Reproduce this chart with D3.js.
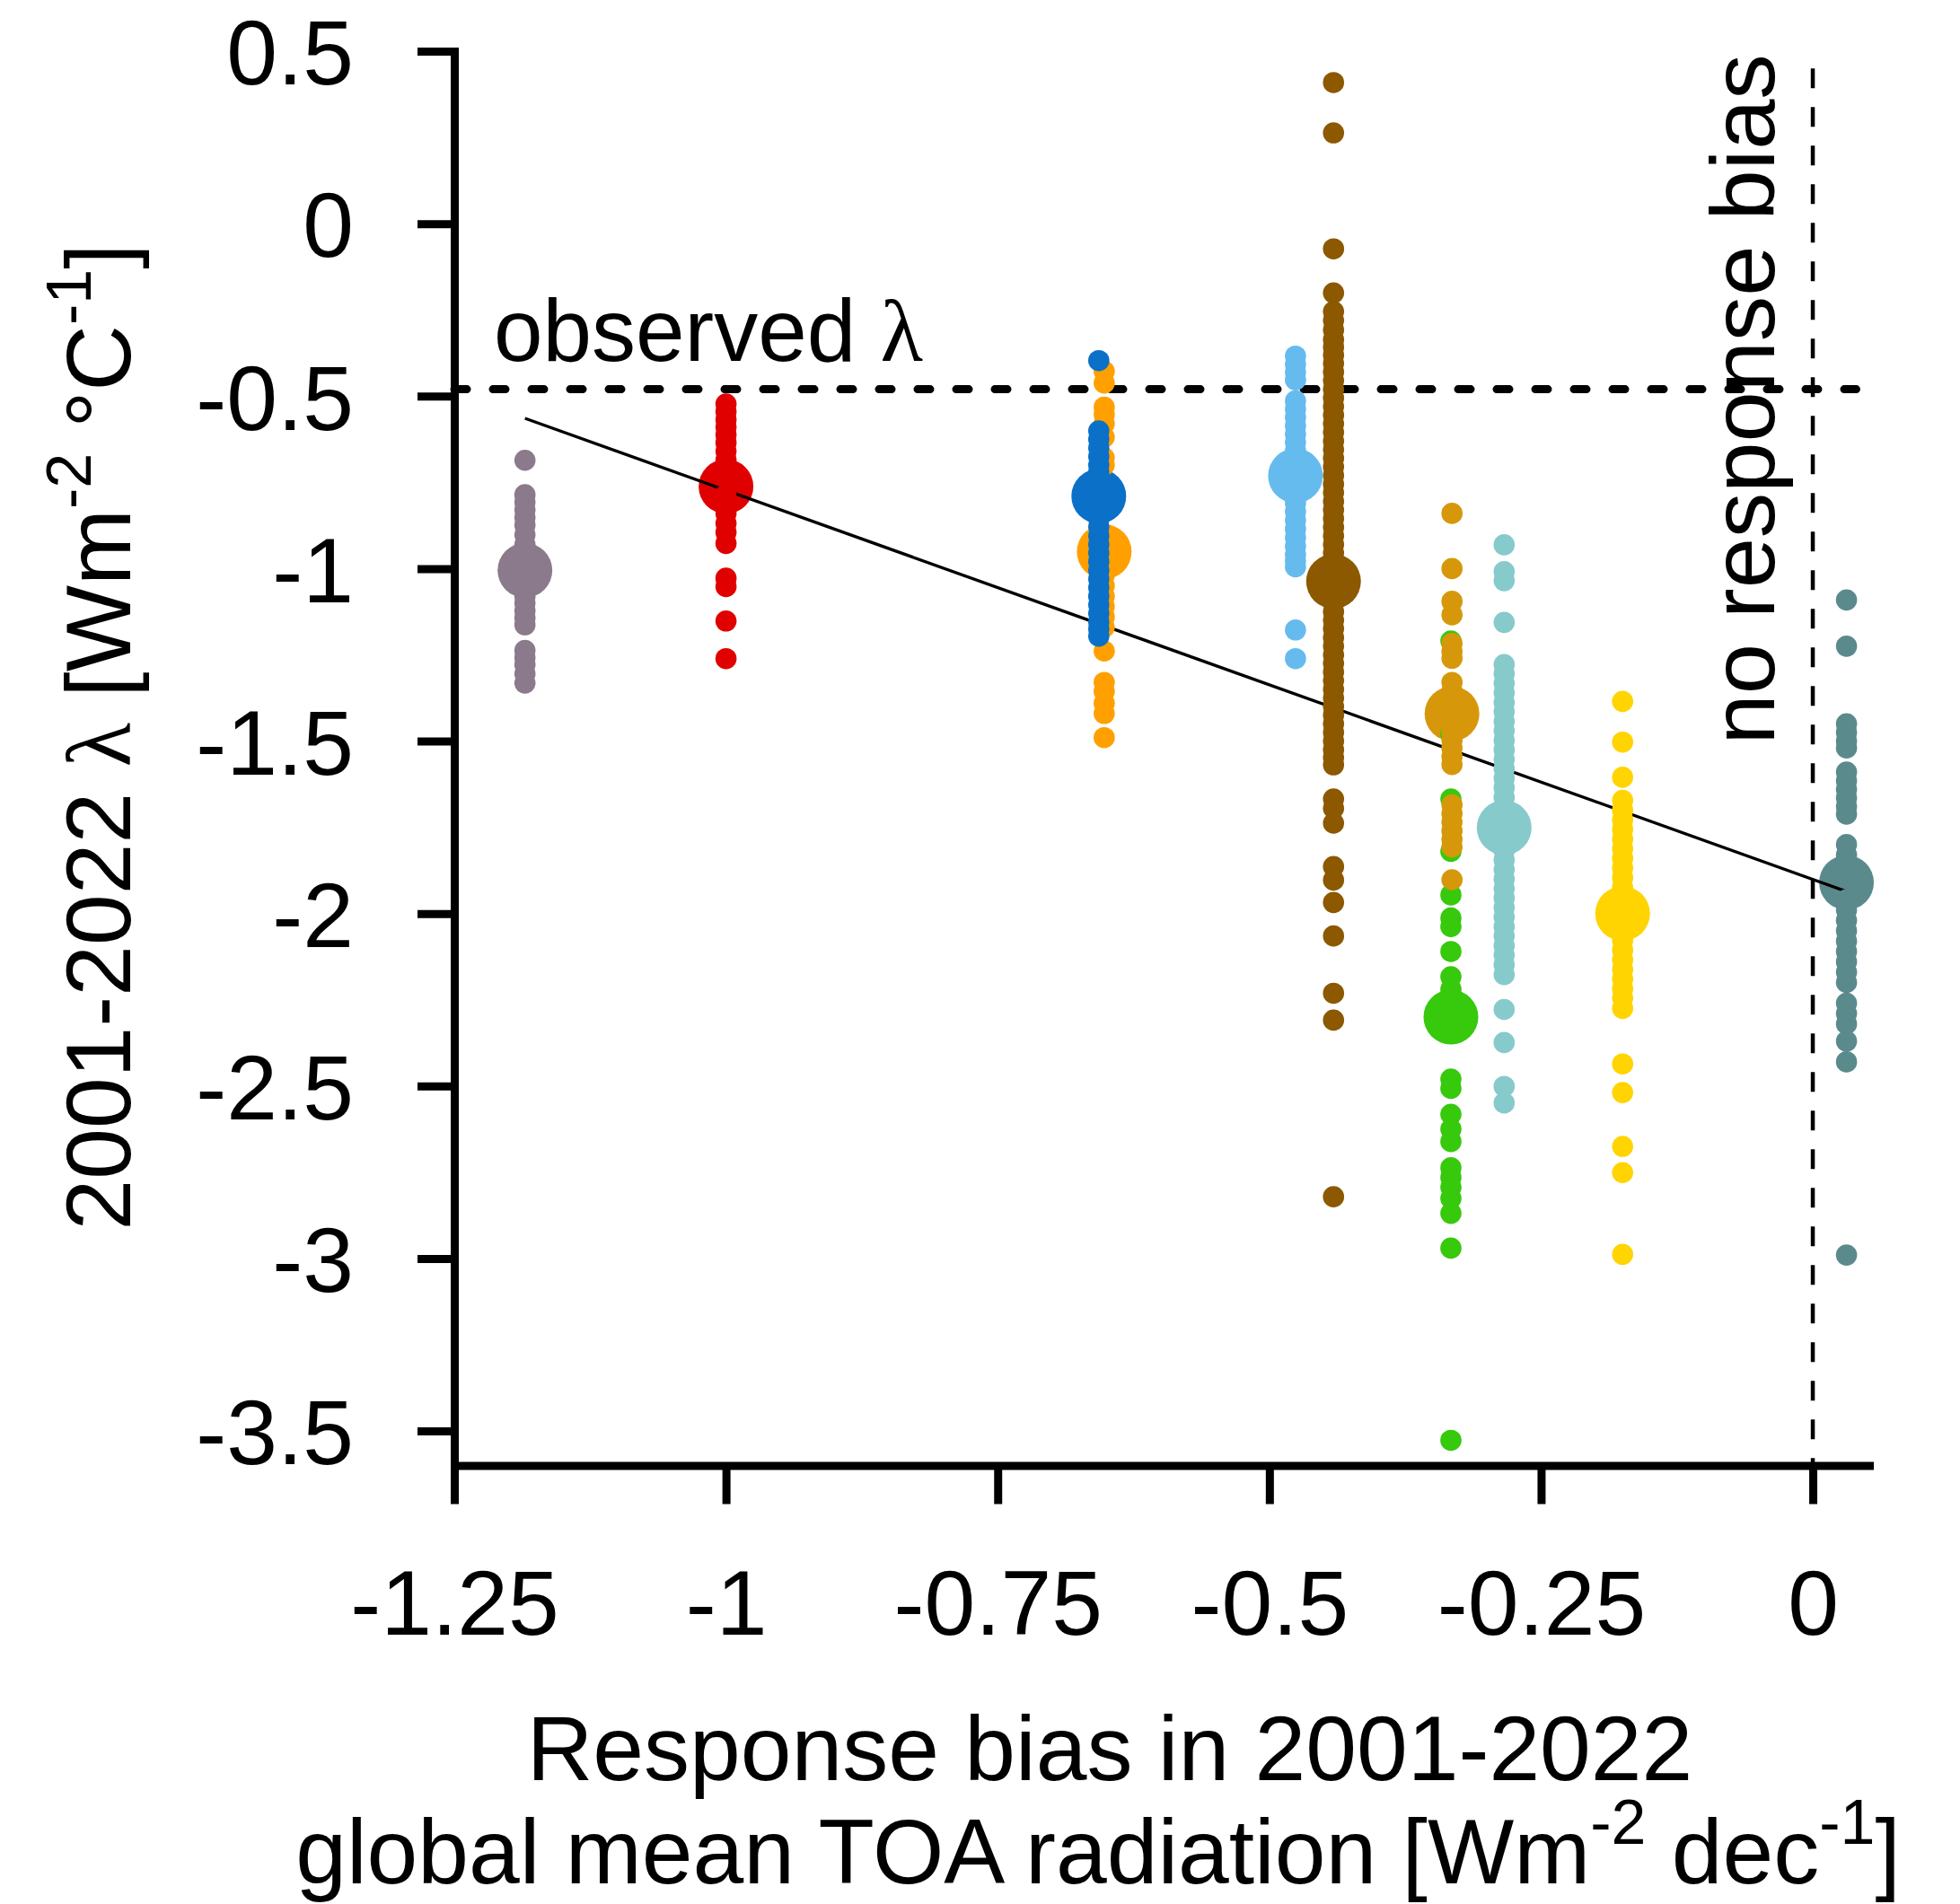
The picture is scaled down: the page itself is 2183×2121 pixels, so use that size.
<!DOCTYPE html>
<html>
<head>
<meta charset="utf-8">
<script src="https://cdn.jsdelivr.net/npm/d3@7"></script>
<style>
    body { margin: 0; background: #fff; }
    text { font-family: "Liberation Sans", Arial, Helvetica, sans-serif; fill: #000; }
</style>
</head>
<body>
<div id="chart"></div>
<script>
'use strict';

// axis ticks
const xTicks = [-1.25, -1, -0.75, -0.5, -0.25, 0];
const yTicks = [0.5, 0, -0.5, -1, -1.5, -2, -2.5, -3, -3.5];

// one entry per model group, in drawing order
const groupColors = ['#8a7a8c', '#e00000', '#ffa000', '#0a70c8', '#66bbee', '#8c5800',
                     '#36c90c', '#d6980a', '#86cacc', '#ffd400', '#5b8a8c'];
const groupX    = [-1.185, -1.0, -0.652, -0.657, -0.476, -0.441, -0.333, -0.332, -0.284, -0.175, 0.031];
const groupMean = [-1.005, -0.762, -0.951, -0.790, -0.731, -1.037, -2.300, -1.421, -1.751, -2.0, -1.91];

// individual ensemble members of each group (lambda values)
const greyMembers = [-0.686, -0.786, -0.808, -0.83, -0.852, -0.874, -0.902, -0.93, -0.96, -0.99, -1.02, -1.05,
    -1.08, -1.10, -1.122, -1.143, -1.163, -1.237, -1.258, -1.278, -1.305, -1.332];
const redMembers = [-0.523, -0.545, -0.568, -0.59, -0.612, -0.635, -0.66, -0.685, -0.71, -0.735, -0.785, -0.81,
    -0.84, -0.869, -0.895, -0.927, -1.028, -1.052, -1.152, -1.261];
const orangeMembers = [-0.428, -0.462, -0.532, -0.553, -0.58, -0.619, -0.679, -0.70, -0.99, -1.02, -1.05, -1.08,
    -1.11, -1.14, -1.17, -1.239, -1.33, -1.356, -1.39, -1.42, -1.49];
const blueMembers = [-0.397, -0.601, -0.625, -0.65, -0.675, -0.70, -0.72, -0.75, -0.83, -0.855, -0.879, -0.905,
    -0.93, -0.955, -0.98, -1.005, -1.03, -1.055, -1.08, -1.105, -1.13, -1.155, -1.175, -1.196];
const lightBlueMembers = [-0.384, -0.408, -0.431, -0.453, -0.514, -0.538, -0.562, -0.586, -0.61, -0.634, -0.658,
    -0.682, -0.706, -0.76, -0.785, -0.81, -0.835, -0.86, -0.885, -0.91, -0.935, -0.96, -0.978, -0.995, -1.178, -1.261];
const brownMembers = [0.409, 0.263, -0.073, -0.201, -0.255, -0.281, -0.308, -0.336, -0.358, -0.381, -0.405, -0.43,
    -0.455, -0.48, -0.505, -0.53, -0.555, -0.58, -0.605, -0.63, -0.655, -0.68, -0.705, -0.73, -0.755, -0.78, -0.805,
    -0.83, -0.855, -0.88, -0.905, -0.93, -0.955, -0.98, -1.0, -1.07, -1.1, -1.125, -1.15, -1.174, -1.2, -1.225, -1.25,
    -1.275, -1.3, -1.325, -1.35, -1.375, -1.4, -1.425, -1.45, -1.475, -1.5, -1.525, -1.548, -1.569, -1.668, -1.695,
    -1.738, -1.864, -1.903, -1.968, -2.065, -2.231, -2.309, -2.821];
const greenMembers = [-1.21, -1.48, -1.668, -1.82, -1.946, -2.013, -2.038, -2.11, -2.183, -2.22, -2.26, -2.34,
    -2.48, -2.507, -2.582, -2.625, -2.661, -2.737, -2.765, -2.794, -2.826, -2.869, -2.970, -3.527];
const goldMembers = [-0.84, -1.0, -1.095, -1.134, -1.217, -1.24, -1.26, -1.33, -1.355, -1.38, -1.45, -1.475,
    -1.497, -1.52, -1.545, -1.568, -1.685, -1.71, -1.735, -1.76, -1.785, -1.807, -1.902];
const lightTealMembers = [-0.931, -1.009, -1.035, -1.156, -1.278, -1.305, -1.333, -1.36, -1.388, -1.415, -1.443,
    -1.47, -1.498, -1.525, -1.553, -1.58, -1.608, -1.635, -1.663, -1.69, -1.718, -1.79, -1.818, -1.845, -1.873,
    -1.90, -1.928, -1.955, -1.983, -2.01, -2.038, -2.065, -2.093, -2.12, -2.148, -2.177, -2.278, -2.374, -2.501, -2.549];
const yellowMembers = [-1.385, -1.503, -1.605, -1.672, -1.70, -1.728, -1.756, -1.784, -1.812, -1.84, -1.868,
    -1.896, -1.924, -1.952, -2.05, -2.078, -2.106, -2.134, -2.162, -2.19, -2.218, -2.245, -2.275, -2.436, -2.519,
    -2.675, -2.751, -2.988];
const darkTealMembers = [-1.091, -1.225, -1.45, -1.475, -1.50, -1.52, -1.59, -1.615, -1.64, -1.665, -1.69, -1.712,
    -1.80, -1.83, -1.86, -1.96, -1.99, -2.02, -2.05, -2.08, -2.11, -2.14, -2.17, -2.20, -2.26, -2.29, -2.32, -2.37,
    -2.43, -2.99];

const groupMembers = [greyMembers, redMembers, orangeMembers, blueMembers, lightBlueMembers, brownMembers,
                      greenMembers, goldMembers, lightTealMembers, yellowMembers, darkTealMembers];

const observedLambda = -0.48;
const fitSlope = -1.128;
const fitIntercept = -1.901;

const width = 2183;
const height = 2121;
const fontSize = 102;

const svg = d3.select('#chart').append('svg')
    .attr('width', width)
    .attr('height', height);

const x = d3.scaleLinear().domain([-1.25, 0.052]).range([506, 2082]);
const y = d3.scaleLinear().domain([0.5, -3.6]).range([57, 1632.5]);

//axes
const yAxis = d3.axisLeft(y)
    .tickValues(yTicks)
    .tickFormat(d => String(d))
    .tickSize(41)
    .tickSizeOuter(0)
    .tickPadding(71);

const xAxis = d3.axisBottom(x)
    .tickValues(xTicks)
    .tickFormat(d => String(d))
    .tickSize(43)
    .tickSizeOuter(0);

const gy = svg.append('g')
    .attr('transform', 'translate(' + x(-1.25) + ',0)')
    .call(yAxis);

const gx = svg.append('g')
    .attr('transform', 'translate(0,' + y(-3.6) + ')')
    .call(xAxis);

[gx, gy].forEach(g => {
    g.attr('font-size', null).attr('font-family', null);
    g.select('.domain').attr('stroke-width', 9).attr('stroke-linecap', 'square');
    g.selectAll('.tick line').attr('stroke-width', 9);
    g.selectAll('.tick text').attr('font-size', fontSize).attr('fill', '#000');
});
gy.selectAll('.tick text').attr('dy', '0.36em');
gx.selectAll('.tick text').attr('y', 188).attr('dy', null);

//reference lines
svg.append('line')
    .attr('x1', x(-1.25)).attr('x2', x(0.04))
    .attr('y1', y(observedLambda)).attr('y2', y(observedLambda))
    .attr('stroke', '#000')
    .attr('stroke-width', 9)
    .attr('stroke-linecap', 'round')
    .attr('stroke-dasharray', '14,29');

svg.append('line')
    .attr('x1', x(0)).attr('x2', x(0))
    .attr('y1', y(0.45)).attr('y2', y(-3.6))
    .attr('stroke', '#000')
    .attr('stroke-width', 4.5)
    .attr('stroke-dasharray', '22,21');

//group means (big dots)
svg.append('g')
    .selectAll('circle')
    .data(groupX.map((gx, i) => ({x: gx, v: groupMean[i], c: groupColors[i]})))
    .enter().append('circle')
    .attr('cx', d => x(d.x))
    .attr('cy', d => y(d.v))
    .attr('r', 30.5)
    .attr('fill', d => d.c);

//fit line across the group means
const fitRange = d3.extent(groupX);
svg.append('path')
    .attr('d', d3.line().x(d => x(d)).y(d => y(fitIntercept + fitSlope * d))(fitRange))
    .attr('stroke', '#000')
    .attr('stroke-width', 3.4)
    .attr('fill', 'none');

//ensemble members
const members = [];
groupMembers.forEach((list, i) => {
    list.forEach(v => members.push({x: groupX[i], v: v, c: groupColors[i]}));
});

svg.append('g')
    .selectAll('circle')
    .data(members)
    .enter().append('circle')
    .attr('cx', d => x(d.x))
    .attr('cy', d => y(d.v))
    .attr('r', 11.8)
    .attr('fill', d => d.c);

//annotations
const obs = svg.append('text')
    .attr('x', x(-1.25) + 44)
    .attr('y', y(observedLambda) - 32)
    .attr('font-size', 98)
    .text('observed ');
obs.append('tspan').attr('font-family', '"Liberation Serif", serif').text('λ');

svg.append('text')
    .attr('transform', 'translate(' + (x(0) - 43) + ',' + y(-1.51) + ') rotate(-90)')
    .attr('font-size', 101)
    .text('no response bias');

//axis titles
const ytitle = svg.append('text')
    .attr('transform', 'translate(145,821) rotate(-90)')
    .attr('text-anchor', 'middle')
    .attr('font-size', fontSize);
ytitle.append('tspan').text('2001-2022 ');
ytitle.append('tspan').attr('font-family', '"Liberation Serif", serif').text('λ');
ytitle.append('tspan').text(' [Wm');
ytitle.append('tspan').attr('font-size', 70).attr('dy', -44).text('-2');
ytitle.append('tspan').attr('dy', 44).text(' °C');
ytitle.append('tspan').attr('font-size', 70).attr('dy', -44).text('-1');
ytitle.append('tspan').attr('dy', 44).text(']');

svg.append('text')
    .attr('x', 1236)
    .attr('y', 1983)
    .attr('text-anchor', 'middle')
    .attr('font-size', fontSize)
    .text('Response bias in 2001-2022');

const xtitle = svg.append('text')
    .attr('x', 1223)
    .attr('y', 2098)
    .attr('text-anchor', 'middle')
    .attr('font-size', fontSize);
xtitle.append('tspan').text('global mean TOA radiation [Wm');
xtitle.append('tspan').attr('font-size', 70).attr('dy', -44).text('-2');
xtitle.append('tspan').attr('dy', 44).text(' dec');
xtitle.append('tspan').attr('font-size', 70).attr('dy', -44).text('-1');
xtitle.append('tspan').attr('dy', 44).text(']');
</script>
</body>
</html>
